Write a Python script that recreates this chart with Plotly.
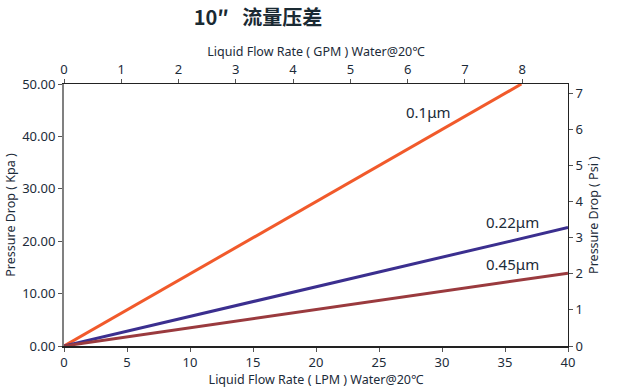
import plotly.graph_objects as go

series_names = ["0.1μm", "0.22μm", "0.45μm"]
series_colors = ["#f15a2b", "#3b2f8f", "#9a3a3e"]
flow_lpm = [[0, 36.3], [0, 40], [0, 40]]
drop_kpa = [[0, 50], [0, 22.6], [0, 13.9]]
label_pos = [(28.9, 44.6), (35.6, 23.7), (35.6, 15.6)]

gpm_ticks = [0, 1, 2, 3, 4, 5, 6, 7, 8]
psi_ticks = [0, 1, 2, 3, 4, 5, 6, 7]
kpa_ticks = [0, 10, 20, 30, 40, 50]
lpm_ticks = [0, 5, 10, 15, 20, 25, 30, 35, 40]

txt = "#1c2b39"
font = "Noto Sans, DejaVu Sans, sans-serif"

fig = go.Figure()
for n, c, xs, ys in zip(series_names, series_colors, flow_lpm, drop_kpa):
    fig.add_trace(go.Scatter(x=xs, y=ys, mode="lines", name=n,
                             line=dict(color=c, width=3), showlegend=False,
                             hoverinfo="skip"))
# invisible trace to bind secondary axes
fig.add_trace(go.Scatter(x=[0, 8.8], y=[0, 7.25], xaxis="x2", yaxis="y2",
                         mode="markers", marker=dict(opacity=0),
                         showlegend=False, hoverinfo="skip"))

for n, (lx, ly) in zip(series_names, label_pos):
    fig.add_annotation(x=lx, y=ly, text=n, showarrow=False,
                       font=dict(size=15, color=txt, family=font))

axfont = dict(size=13, color=txt, family=font)
ttlfont = dict(size=12.5, color=txt, family=font)
fig.update_layout(
    width=626, height=389,
    margin=dict(l=64, r=58, t=84, b=43),
    plot_bgcolor="white", paper_bgcolor="white",
    title=dict(text="<b>10″   流量压差</b>", x=258 / 626, xanchor="center",
               y=0.953, yanchor="middle",
               font=dict(size=20, color="#1a2a33", family="Noto Sans CJK SC")),
    xaxis=dict(range=[0, 40], tickvals=lpm_ticks, showgrid=False, zeroline=False,
               showline=True, linecolor="#222", linewidth=1.5, automargin=False,
               ticks="outside", ticklen=4, tickcolor="#555",
               tickfont=axfont,
               title=dict(text="Liquid Flow Rate ( LPM ) Water@20℃", font=ttlfont, standoff=0)),
    xaxis2=dict(range=[0, 8.8], tickvals=gpm_ticks, overlaying="x", side="top",
                showgrid=False, zeroline=False, showline=True, linecolor="#222",
                linewidth=1, ticks="outside", ticklen=4, tickcolor="#555",
                tickfont=axfont, automargin=False,
                title=dict(text="Liquid Flow Rate ( GPM ) Water@20℃", font=ttlfont, standoff=0)),
    yaxis=dict(range=[0, 50], tickvals=kpa_ticks, tickformat=".2f", showgrid=False,
               zeroline=False, showline=True, linecolor="#808080", linewidth=2,
               ticks="outside", ticklen=4, tickcolor="#555", tickfont=axfont,
               automargin=False,
               title=dict(text="Pressure Drop ( Kpa )", font=ttlfont, standoff=4)),
    yaxis2=dict(range=[0, 7.25], tickvals=psi_ticks, overlaying="y", side="right",
                showgrid=False, zeroline=False, showline=True, linecolor="#222",
                linewidth=1, ticks="outside", ticklen=4, tickcolor="#555",
                tickfont=axfont, automargin=False,
                title=dict(text="Pressure Drop ( Psi )", font=ttlfont, standoff=6)),
)

fig.write_html("out.html", config={"displayModeBar": False},
               post_script="document.body.style.margin='0';document.body.style.padding='0';")
